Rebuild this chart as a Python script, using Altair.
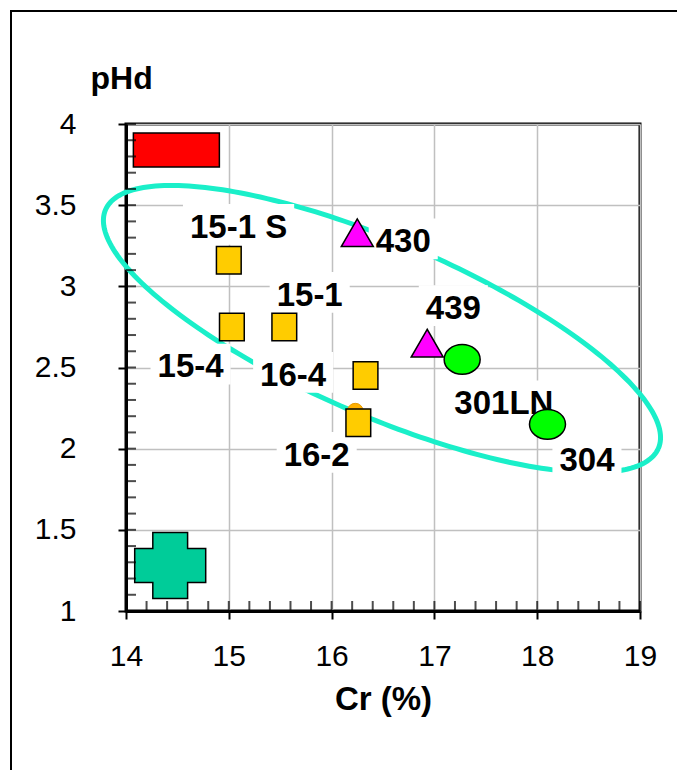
import altair as alt
import numpy as np
import pandas as pd

# ---------------- data ----------------
sq_names = ["15-1 S", "15-4", "15-1", "16-4", "16-2"]
sq_cr = [15.00, 15.03, 15.54, 16.33, 16.26]
sq_ph = [3.16, 2.75, 2.75, 2.45, 2.16]

tri_names = ["430", "439"]
tri_cr = [16.25, 16.93]
tri_ph = [3.33, 2.65]

circ_names = ["301LN", "304"]
circ_cr = [17.27, 18.10]
circ_ph = [2.55, 2.15]

orange_cr = [16.23]
orange_ph = [2.23]

red_cr = [14.49]
red_ph = [3.84]

cross_cr = [14.43]
cross_ph = [1.28]

# label anchors (text centre x, baseline y)
lab_text = ["15-1 S", "430", "15-1", "439", "15-4", "16-4", "301LN", "304", "16-2"]
lab_x = [15.095, 16.697, 15.787, 17.184, 14.628, 15.626, 17.676, 18.484, 15.855]
lab_y = [3.300, 3.210, 2.881, 2.799, 2.439, 2.388, 2.213, 1.864, 1.895]

# ellipse annotation: centre and two semi-axis vectors (data units)
ell_center = (16.49, 2.737)
ell_u = (2.689, -0.735)
ell_v = (-0.335, -0.492)

x_ticks = [14, 15, 16, 17, 18, 19]
y_ticks = [1, 1.5, 2, 2.5, 3, 3.5, 4]

# ---------------- layout ----------------
W, H = 514, 487
XMIN, XMAX, YMIN, YMAX = 14, 19, 1, 4
PX_X = W / (XMAX - XMIN)
PX_Y = H / (YMAX - YMIN)
FONT = "Liberation Sans, Arial, sans-serif"
LFS = 33

xs = alt.Scale(domain=[XMIN, XMAX], nice=False, zero=False)
ys = alt.Scale(domain=[YMIN, YMAX], nice=False, zero=False)

# outer frame of the figure
frame = alt.Chart(pd.DataFrame({"a": [0]})).mark_rect(
    filled=False, stroke="black", strokeWidth=2
).encode(
    x=alt.value(-115), x2=alt.value(556), y=alt.value(-113), y2=alt.value(700)
)

# ellipse
t = np.linspace(0, 2 * np.pi, 241)
ell_df = pd.DataFrame({
    "i": np.arange(len(t)),
    "x": ell_center[0] + np.cos(t) * ell_u[0] + np.sin(t) * ell_v[0],
    "y": ell_center[1] + np.cos(t) * ell_u[1] + np.sin(t) * ell_v[1],
})
ellipse = alt.Chart(ell_df).mark_line(
    color="#1aefc9", strokeWidth=5, clip=False
).encode(
    x=alt.X("x:Q", scale=xs, axis=alt.Axis(
        values=x_ticks, format="~g", title="Cr (%)", grid=True,
        labelFontSize=30, labelFont=FONT, labelColor="black",
        labelPadding=22, tickSize=8, titleFont=FONT, titleFontSize=33,
        titleFontWeight="bold", titleColor="black",
        titleBaseline="alphabetic", titleY=98, labelFlush=False)),
    y=alt.Y("y:Q", scale=ys, axis=alt.Axis(
        values=y_ticks, format="~g", title="pHd", grid=True,
        labelFontSize=30, labelFont=FONT, labelColor="black",
        labelPadding=42, tickSize=8, titleFont=FONT, titleFontSize=32,
        titleFontWeight="bold", titleColor="black", titleAngle=0,
        titleAlign="left", titleBaseline="alphabetic", titleX=-36,
        titleY=-36, labelFlush=False)),
    order="i:Q",
)

# label boxes
cw = {"-": 0.333, " ": 0.278, "S": 0.667, "L": 0.611, "N": 0.722}
def text_w(s):
    return sum(cw.get(c, 0.556) for c in s) * LFS

lab_df = pd.DataFrame({"text": lab_text, "x": lab_x, "y": lab_y})
lab_df["bx1"] = lab_df["x"] - (lab_df["text"].map(text_w) / 2 + 7) / PX_X
lab_df["bx2"] = lab_df["x"] + (lab_df["text"].map(text_w) / 2 + 7) / PX_X
lab_df["by1"] = lab_df["y"] - 7 / PX_Y
lab_df["by2"] = lab_df["y"] + (0.716 * LFS + 10) / PX_Y

boxes = alt.Chart(lab_df).mark_rect(fill="white", stroke=None).encode(
    x=alt.X("bx1:Q", scale=xs), x2="bx2:Q",
    y=alt.Y("by1:Q", scale=ys), y2="by2:Q",
)
labels = alt.Chart(lab_df).mark_text(
    font=FONT, fontSize=LFS, fontWeight="bold", color="black",
    align="center", baseline="alphabetic"
).encode(x=alt.X("x:Q", scale=xs), y=alt.Y("y:Q", scale=ys), text="text:N")


def pts(cr, ph, fill, stroke="black", sw=1.5, **kw):
    return alt.Chart(pd.DataFrame({"x": cr, "y": ph})).mark_point(
        filled=True, opacity=1, fill=fill, stroke=stroke, strokeWidth=sw, **kw
    ).encode(x=alt.X("x:Q", scale=xs), y=alt.Y("y:Q", scale=ys))


orange = pts(orange_cr, orange_ph, "#FFB000", stroke="#E69A00", sw=1,
             shape="circle", size=256)
squares = pts(sq_cr, sq_ph, "#FFCC00", shape="M-0.9,-1H0.9V1H-0.9Z", size=756)
tris = pts(tri_cr, tri_ph, "#FF00FF", shape="triangle-up", size=1024)
circs = pts(circ_cr, circ_ph, "#00FF00",
            shape="M-1,0A1,0.83,0,1,0,1,0A1,0.83,0,1,0,-1,0Z", size=1296)
red = pts(red_cr, red_ph, "#FF0000", shape="M-1,-0.395H1V0.395H-1Z", size=7396)
cross = pts(cross_cr, cross_ph, "#00CC99",
            shape="M-0.49,-0.93H0.49V-0.48H1V0.48H0.49V0.93H-0.49V0.48H-1V-0.48H-0.49Z",
            size=5041)

# inner tick marks (minor + major)
xt = pd.DataFrame({"x": np.round(np.arange(14, 19.0001, 0.2), 2), "y": 1.0})
yt = pd.DataFrame({"y": np.round(np.arange(1, 4.0001, 0.1), 2), "x": 14.0})
xticks_in = alt.Chart(xt).mark_tick(
    orient="vertical", size=10, thickness=2, color="black", yOffset=-5
).encode(x=alt.X("x:Q", scale=xs), y=alt.Y("y:Q", scale=ys))
yticks_in = alt.Chart(yt).mark_tick(
    orient="horizontal", size=10, thickness=2, color="black", xOffset=5
).encode(x=alt.X("x:Q", scale=xs), y=alt.Y("y:Q", scale=ys))

chart = alt.layer(
    ellipse, frame, boxes, labels, orange, squares, tris, circs, red, cross,
    xticks_in, yticks_in
).properties(
    width=W, height=H,
    autosize=alt.AutoSizeParams(type="none"),
    padding={"left": 118, "top": 116, "right": 37, "bottom": 159},
).configure_view(
    stroke="black", strokeWidth=3
).configure_axis(
    domainColor="black", domainWidth=3, tickColor="black", tickWidth=2,
    gridColor="#c0c0c0", gridWidth=1.5
)

chart.save("out.html", embed_options={"renderer": "svg", "actions": False})
